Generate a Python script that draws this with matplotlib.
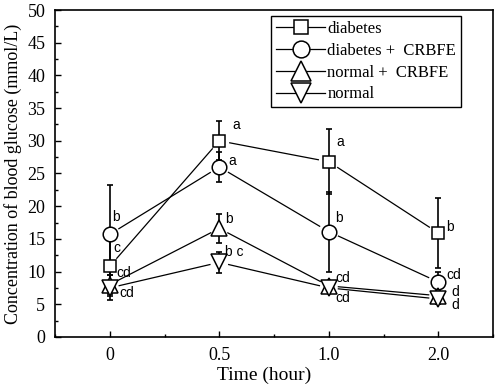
import numpy as np
import matplotlib
matplotlib.use("Agg")
import matplotlib.pyplot as plt
from matplotlib.ticker import MultipleLocator
from matplotlib.lines import Line2D
from matplotlib.collections import LineCollection

# data
times = ['0', '0.5', '1.0', '2.0']
diab = [10.8, 30.0, 26.8, 15.9]
diab_err = [4.5, 3.0, 5.0, 5.3]
diab_crbfe = [15.7, 26.0, 16.1, 8.4]
diab_crbfe_err = [7.5, 2.3, 6.1, 1.5]
norm_crbfe = [8.0, 16.6, 7.8, 6.3]
norm_crbfe_err = [1.5, 2.2, 0.8, 0.8]
normal = [7.5, 11.4, 7.5, 5.8]
normal_err = [1.9, 1.6, 0.7, 0.8]

labels = ['diabetes', 'diabetes +  CRBFE', 'normal +  CRBFE', 'normal']
# significance letters: (series index, x index, text, dx, dy)
letters = [
    (0, 1, 'a', 0.12, 2.4), (0, 2, 'a', 0.07, 3.0), (0, 3, 'b', 0.07, 0.9),
    (0, 0, 'c', 0.03, 2.8),
    (1, 0, 'b', 0.02, 2.6), (1, 1, 'a', 0.08, 0.9), (1, 2, 'b', 0.06, 2.1),
    (1, 3, 'cd', 0.07, 1.1),
    (2, 0, 'cd', 0.06, 1.8), (2, 1, 'b', 0.05, 1.4), (2, 2, 'cd', 0.06, 1.2),
    (2, 3, 'd', 0.12, 0.6),
    (3, 0, 'cd', 0.09, -0.8), (3, 1, 'b c', 0.05, 1.6), (3, 2, 'cd', 0.06, -1.5),
    (3, 3, 'd', 0.12, -0.9),
]
markers = ['s', 'o', '^', 'v']
msizes = [9, 10.5, 12, 12]
gaps = [10, 10, 9, 9]  # pixel gap between line ends and marker centre

series = [diab, diab_crbfe, norm_crbfe, normal]
errs = [diab_err, diab_crbfe_err, norm_crbfe_err, normal_err]

fig = plt.figure(figsize=(4.96, 3.89), dpi=100)
ax = fig.add_axes([0.111, 0.134, 0.883, 0.840])
x = np.arange(len(times))
ax.set_xlim(-0.5, 3.5)
ax.set_ylim(0, 50)

handles = []
for s, e, m, ms, g, lab in zip(series, errs, markers, msizes, gaps, labels):
    ax.errorbar(x, s, yerr=e, fmt='none', ecolor='black', elinewidth=1.2,
                capsize=2.5, capthick=1.2, zorder=2)
    ax.plot(x, s, ls='none', marker=m, ms=ms, mfc='white', mec='black',
            mew=1.1, zorder=3)
    # connecting lines with a small gap at each marker (Origin style)
    pts = ax.transData.transform(np.column_stack([x, s]))
    segs = []
    for p0, p1 in zip(pts[:-1], pts[1:]):
        d = p1 - p0
        u = d / np.hypot(*d)
        segs.append([p0 + u * g, p1 - u * g])
    lc = LineCollection(segs, colors='black', linewidths=0.9, transform=None,
                        zorder=1)
    ax.add_collection(lc)
    handles.append(Line2D([], [], color='black', lw=0.9, marker=m, ms=ms * 1.15,
                          mfc='white', mec='black', mew=1.1, label=lab))

for si, xi, t, dx, dy in letters:
    ax.text(xi + dx, series[si][xi] + dy, t, fontsize=10, family='Liberation Sans',
            va='center', ha='left')

ax.set_xticks(x)
ax.set_xticklabels(times)
ax.xaxis.set_minor_locator(MultipleLocator(0.5))
ax.yaxis.set_major_locator(MultipleLocator(5))
ax.yaxis.set_minor_locator(MultipleLocator(2.5))
ax.tick_params(direction='in', which='both', top=False, right=False,
               labelsize=13, width=1)
ax.tick_params(axis='x', pad=7)
ax.tick_params(axis='y', pad=7)
ax.tick_params(which='major', length=4)
ax.tick_params(which='minor', length=2.5)
for lbl in ax.get_xticklabels() + ax.get_yticklabels():
    lbl.set_family('Liberation Serif')
for sp in ax.spines.values():
    sp.set_linewidth(1.2)

ax.set_xlabel('Time (hour)', family='Liberation Serif', fontsize=14)
ax.xaxis.set_label_coords(0.477, -0.09)
ax.set_ylabel('Concentration of blood glucose (mmol/L)', family='Liberation Serif',
              fontsize=13, labelpad=4)

leg = ax.legend(handles=handles, loc='upper left', bbox_to_anchor=(0.494, 0.982),
                frameon=True, fancybox=False, edgecolor='black', framealpha=1,
                prop={'family': 'Liberation Serif', 'size': 12},
                handlelength=2.9, handletextpad=0.15, labelspacing=0.35,
                borderpad=0.3, borderaxespad=0)
leg.get_frame().set_linewidth(1.0)

fig.savefig('out.png', dpi=100)
